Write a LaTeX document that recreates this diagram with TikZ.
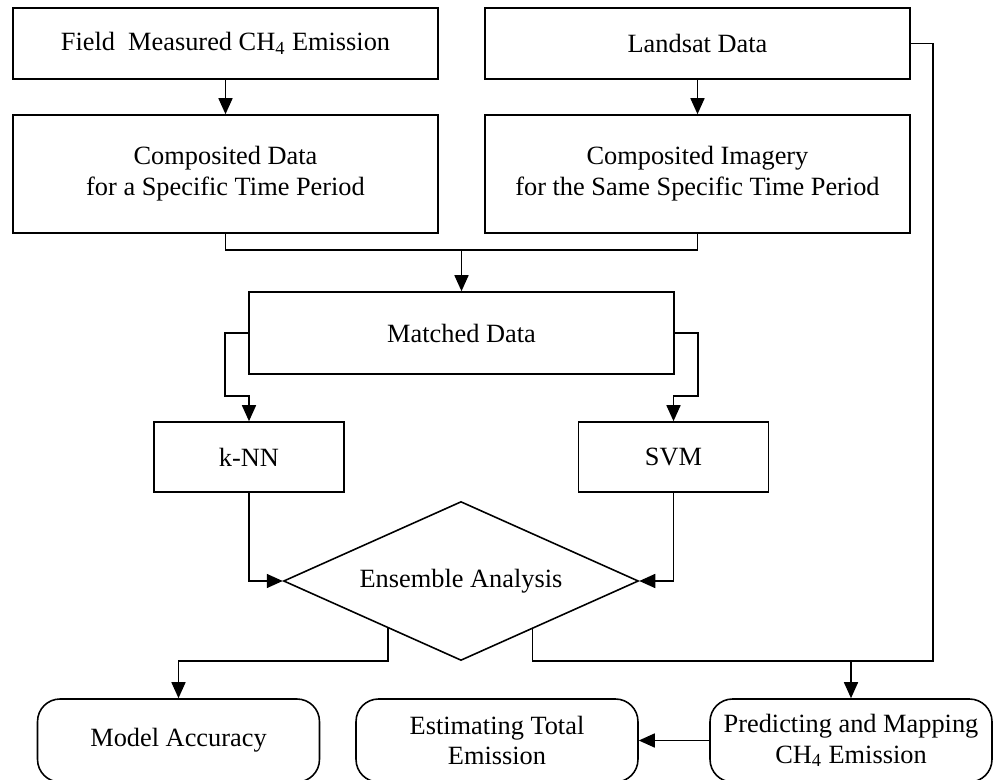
\documentclass[tikz,border=0pt]{standalone}
\usepackage{fontspec}
\setmainfont{Liberation Serif}
\usetikzlibrary{shapes.geometric,arrows.meta,calc}

\begin{document}
\begin{tikzpicture}[x=0.02cm,y=-0.02cm,
  font=\fontsize{15}{17.5}\selectfont,
  box/.style={draw, line width=0.9pt, minimum width=8.5cm, align=center, inner sep=0pt},
  model/.style={draw, line width=0.9pt, minimum width=3.8cm, minimum height=1.4cm},
  result/.style={draw, line width=0.9pt, rounded corners=0.45cm, minimum width=5.64cm, minimum height=1.66cm, align=center},
  decision/.style={draw, diamond, line width=0.9pt, minimum width=7.1cm, minimum height=3.18cm, shape aspect=2.23, inner sep=0pt},
  line/.style={line width=0.9pt},
  arr/.style={line, -{Triangle[length=0.32cm,width=0.28cm]}}]
\useasboundingbox (0,0) rectangle (994,780);

% Inputs
\node[box, minimum height=1.42cm] (field) at (225.5,43.5) {Field\ \ Measured CH\textsubscript{4} Emission};
\node[box, minimum height=1.42cm] (landsat) at (697.5,43.5) {Landsat Data};
\node[box, minimum height=2.36cm] (compdata) at (225.5,174) {Composited Data\\for a Specific Time Period};
\node[box, minimum height=2.36cm] (compimg) at (697.5,174) {Composited Imagery\\for the Same Specific Time Period};

% Matching and models
\node[box, minimum height=1.64cm] (matched) at (461.5,333) {Matched Data};
\node[model] (knn) at (249,457) {k-NN};
\node[model] (svm) at (673.5,457) {SVM};
\node[decision] (ensemble) at (461,581) {Ensemble Analysis};

% Outputs
\node[result] (accuracy) at (178.5,740.5) {Model Accuracy};
\node[result] (estimating) at (497,740.5) {Estimating Total\\Emission};
\node[result] (predicting) at (851,740.5) {Predicting and Mapping\\CH\textsubscript{4} Emission};

% Helper points
\coordinate (join) at (461.5,250);
\coordinate (lsbend) at (933,43.5);
\coordinate (eL) at ($(ensemble.south)!0.41!(ensemble.west)$);
\coordinate (eR) at ($(ensemble.south)!0.40!(ensemble.east)$);

% Connectors
\draw[arr] (field) -- (compdata);
\draw[arr] (landsat) -- (compimg);
\draw[line] (compdata.south) |- (join);
\draw[line] (compimg.south) |- (join);
\draw[arr] (join) -- (matched);
\draw[arr] (matched.west) -- ++(-23,0) |- ($(knn.north)+(0,-25)$) -- (knn.north);
\draw[arr] (matched.east) -- ++(23,0) |- ($(svm.north)+(0,-25)$) -- (svm.north);
\draw[arr] (knn.south) |- (ensemble.west);
\draw[arr] (svm.south) |- (ensemble.east);
\draw[arr] (eL) -- (eL |- ensemble.south) -| (accuracy.north);
\draw[line] (landsat.east) -- (lsbend) |- (eR |- ensemble.south) -- (eR);
\draw[arr] (predicting.north |- ensemble.south) -- (predicting.north);
\draw[arr] (predicting) -- (estimating);
\end{tikzpicture}
\end{document}
